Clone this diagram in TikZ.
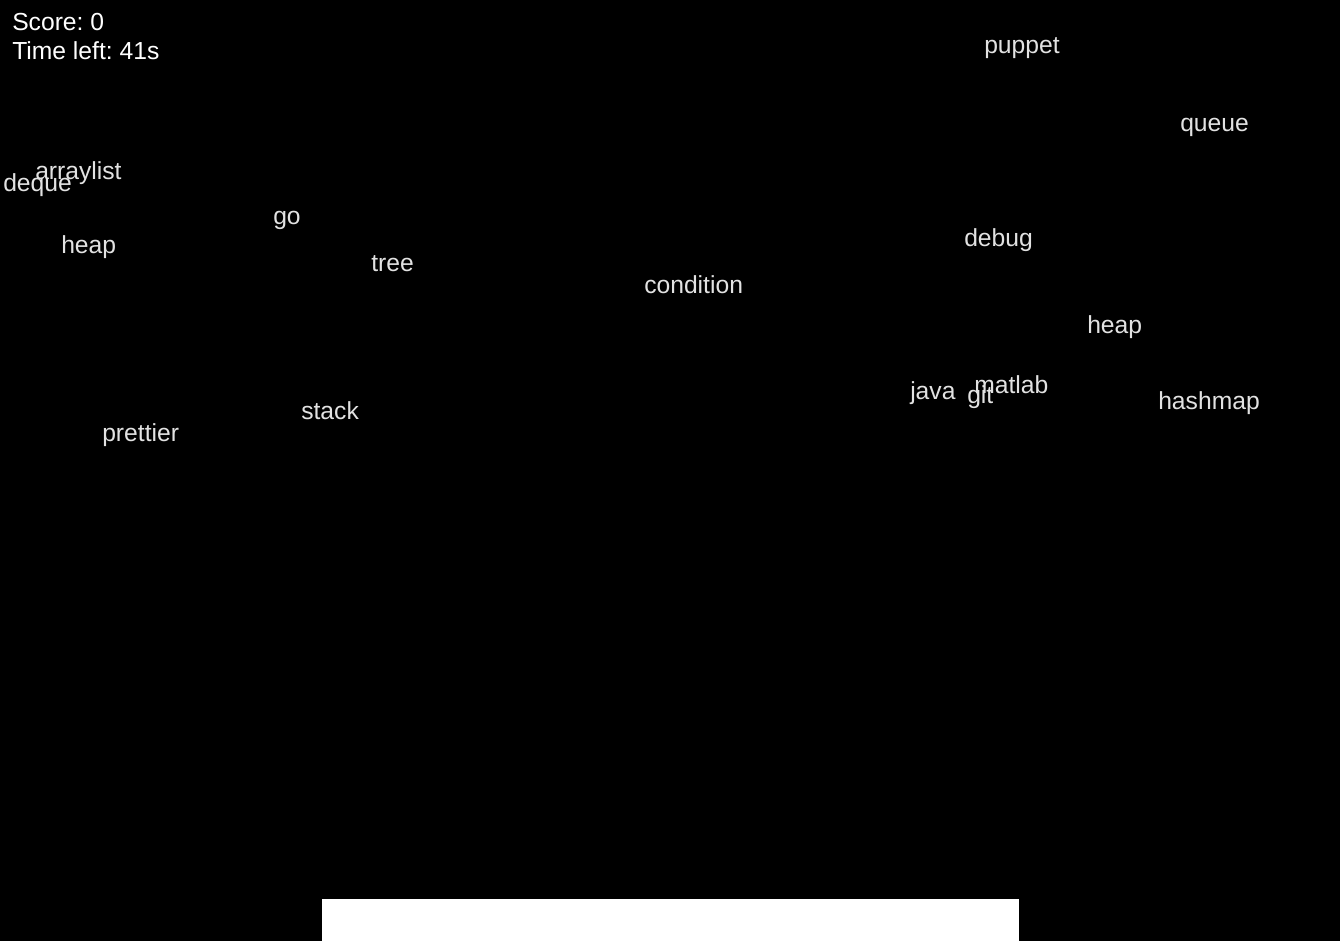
\documentclass[tikz,border=0pt]{standalone}
\usepackage{fontspec}
\setmainfont{Liberation Sans}
\usepackage{tikz}
\frenchspacing
\definecolor{wordgray}{HTML}{E2E2E2}
\tikzstyle{label}=[inner sep=0pt, anchor=base west, font=\fontsize{18.5pt}{22pt}\selectfont]
\tikzstyle{hud}=[label, text=white]
\tikzstyle{word}=[label, text=wordgray]
\tikzstyle{paddle}=[fill=white, draw=none]

\begin{document}
\begin{tikzpicture}[x=0.75pt, y=-0.75pt]
        \fill[black] (0, 0) rectangle (1340, 941);
        \useasboundingbox (0, 0) rectangle (1340, 941);
        \node[hud] (score) at (12, 31) {Score: 0};
        \node[hud] (time) at (12, 60) {Time left: 41s};
        \node[word] (puppet) at (984, 54) {puppet};
        \node[word] (queue) at (1180, 131.5) {queue};
        \node[word] (arraylist) at (35, 180) {arraylist};
        \node[word] (deque) at (3, 192) {deque};
        \node[word] (go) at (273, 224.5) {go};
        \node[word] (debug) at (964, 246.5) {debug};
        \node[word] (heapA) at (61, 254) {heap};
        \node[word] (tree) at (371, 271.5) {tree};
        \node[word] (condition) at (644, 294) {condition};
        \node[word] (heapB) at (1087, 334) {heap};
        \node[word] (matlab) at (974, 394) {matlab};
        \node[word] (java) at (910, 400) {java};
        \node[word] (git) at (967, 404) {git};
        \node[word] (hashmap) at (1158, 410) {hashmap};
        \node[word] (stack) at (301, 420) {stack};
        \node[word] (prettier) at (102, 441.5) {prettier};
        \node[paddle, anchor=north west, minimum width=697*0.75pt, minimum height=42*0.75pt, inner sep=0pt] (pad) at (322, 899) {};
    \end{tikzpicture}
\end{document}
